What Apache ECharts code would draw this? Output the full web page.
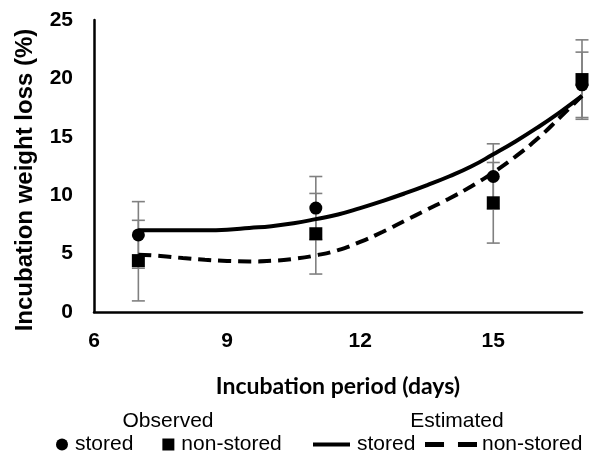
<!DOCTYPE html>
<html>
<head>
<meta charset="utf-8">
<script src="https://cdn.jsdelivr.net/npm/echarts@6/dist/echarts.min.js"></script>
<style>
html,body{margin:0;padding:0;background:#fff;}
#chart{width:593px;height:459px;}
</style>
</head>
<body>
<div id="chart"></div>
<script>
// Observed data
var days = [7, 11, 15, 17];
var storedObs = [6.6, 8.9, 11.6, 19.45];
var storedErr = [2.85, 2.7, 2.8, 2.8];
var nonStoredObs = [4.4, 6.7, 9.35, 19.9];
var nonStoredErr = [3.45, 3.45, 3.45, 3.4];

// Estimated curves
var estDays = [7, 7.5, 8, 8.5, 9, 9.5, 10, 10.5, 11, 11.5, 12, 12.5, 13, 13.5, 14, 14.5, 15, 15.5, 16, 16.5, 17];
var storedEst = [7.0, 7.0, 7.0, 7.0, 7.05, 7.2, 7.35, 7.6, 7.95, 8.35, 8.9, 9.5, 10.15, 10.85, 11.6, 12.45, 13.5, 14.6, 15.8, 17.1, 18.5];
var nonStoredEst = [4.9, 4.8, 4.62, 4.47, 4.37, 4.33, 4.38, 4.55, 4.85, 5.3, 6.0, 6.85, 7.8, 8.75, 9.7, 10.75, 11.95, 13.3, 14.85, 16.65, 18.5];

var xTicks = [6, 9, 12, 15];
var yTicks = [0, 5, 10, 15, 20, 25];

var legendLabels = {
  o_stored: 'stored',
  o_non: 'non-stored',
  e_stored: 'stored',
  e_non: 'non-stored'
};

function pairs(xs, ys) { return xs.map(function (x, i) { return [x, ys[i]]; }); }
function errData(xs, ys, es) { return xs.map(function (x, i) { return [x, ys[i] - es[i], ys[i] + es[i]]; }); }

function errRender(params, api) {
  var x = api.value(0);
  var lo = api.coord([x, api.value(1)]);
  var hi = api.coord([x, api.value(2)]);
  var hw = 6.5;
  var st = { stroke: '#808080', lineWidth: 1.6 };
  return {
    type: 'group',
    children: [
      { type: 'line', shape: { x1: lo[0], y1: lo[1], x2: hi[0], y2: hi[1] }, style: st },
      { type: 'line', shape: { x1: lo[0] - hw, y1: lo[1], x2: lo[0] + hw, y2: lo[1] }, style: st },
      { type: 'line', shape: { x1: hi[0] - hw, y1: hi[1], x2: hi[0] + hw, y2: hi[1] }, style: st }
    ]
  };
}

var FONT = '"Liberation Sans", Arial, sans-serif';
var chart = echarts.init(document.getElementById('chart'), null, { renderer: 'canvas' });

var option = {
  animation: false,
  backgroundColor: '#fff',
  grid: { left: 94, right: 11, top: 20, bottom: 147 },
  xAxis: {
    type: 'value', min: xTicks[0], max: 17, interval: xTicks[1] - xTicks[0],
    name: 'Incubation period (days)', nameLocation: 'middle', nameGap: 63,
    nameTextStyle: { fontFamily: 'Lato, "Open Sans", sans-serif', fontWeight: 'bold', fontSize: 23, color: '#000' },
    axisLine: { lineStyle: { color: '#000', width: 2.5 } },
    axisTick: { show: false },
    splitLine: { show: false },
    axisLabel: { showMaxLabel: false, margin: 19, fontFamily: FONT, fontWeight: 'bold', fontSize: 21, color: '#000' }
  },
  yAxis: {
    type: 'value', min: yTicks[0], max: yTicks[yTicks.length - 1], interval: yTicks[1] - yTicks[0],
    name: 'Incubation weight loss (%)', nameLocation: 'middle', nameGap: 57,
    nameTextStyle: { fontFamily: FONT, fontWeight: 'bold', fontSize: 24, color: '#000', padding: [0, 28, 0, 0] },
    axisLine: { show: true, lineStyle: { color: '#000', width: 2.5 } },
    axisTick: { show: false },
    splitLine: { show: false },
    axisLabel: { margin: 21, fontFamily: FONT, fontWeight: 'bold', fontSize: 21, color: '#000' }
  },
  legend: [
    {
      left: 56, top: 434, padding: 0, itemWidth: 12, itemHeight: 12, itemGap: 29, selectedMode: false,
      data: [{ name: 'o_stored', icon: 'circle' }, { name: 'o_non', icon: 'rect' }],
      formatter: function (n) { return legendLabels[n]; },
      textStyle: { fontFamily: FONT, fontSize: 21, color: '#000', padding: [0, 0, 0, 2] }
    },
    {
      left: 313, top: 434, padding: 0, itemWidth: 37, itemHeight: 14, selectedMode: false,
      data: [{ name: 'e_stored', icon: 'path://M0,0 L37,0 L37,4 L0,4 Z' }],
      formatter: function (n) { return legendLabels[n]; },
      textStyle: { fontFamily: FONT, fontSize: 21, color: '#000', padding: [0, 0, 0, 2] }
    },
    {
      left: 425, top: 434, padding: 0, itemWidth: 52, itemHeight: 14, selectedMode: false,
      data: [{ name: 'e_non', icon: 'path://M0,0 L15,0 L15,4 L0,4 Z M26,0 L41,0 L41,4 L26,4 Z' }],
      formatter: function (n) { return legendLabels[n]; },
      textStyle: { fontFamily: FONT, fontSize: 21, color: '#000', padding: [0, 0, 0, 0] }
    }
  ],
  graphic: [
    { type: 'text', x: 168, y: 421, style: { text: 'Observed', font: '21px ' + FONT, fill: '#000', textAlign: 'center', textVerticalAlign: 'middle' } },
    { type: 'text', x: 457, y: 421, style: { text: 'Estimated', font: '21px ' + FONT, fill: '#000', textAlign: 'center', textVerticalAlign: 'middle' } }
  ],
  series: [
    { name: 'err_stored', type: 'custom', renderItem: errRender, data: errData(days, storedObs, storedErr), z: 1, silent: true },
    { name: 'err_non', type: 'custom', renderItem: errRender, data: errData(days, nonStoredObs, nonStoredErr), z: 1, silent: true },
    {
      name: 'e_stored', type: 'line', smooth: true, symbol: 'none', data: pairs(estDays, storedEst), z: 2,
      lineStyle: { color: '#000', width: 4 }, itemStyle: { color: '#000' }
    },
    {
      name: 'e_non', type: 'line', smooth: true, symbol: 'none', data: pairs(estDays, nonStoredEst), z: 2,
      lineStyle: { color: '#000', width: 4, type: [13, 7] }, itemStyle: { color: '#000' }
    },
    {
      name: 'o_stored', type: 'scatter', symbol: 'circle', symbolSize: 13, data: pairs(days, storedObs), z: 3,
      itemStyle: { color: '#000', opacity: 1 }
    },
    {
      name: 'o_non', type: 'scatter', symbol: 'rect', symbolSize: 13, data: pairs(days, nonStoredObs), z: 3,
      itemStyle: { color: '#000', opacity: 1 }
    }
  ]
};
chart.setOption(option);
</script>
</body>
</html>
